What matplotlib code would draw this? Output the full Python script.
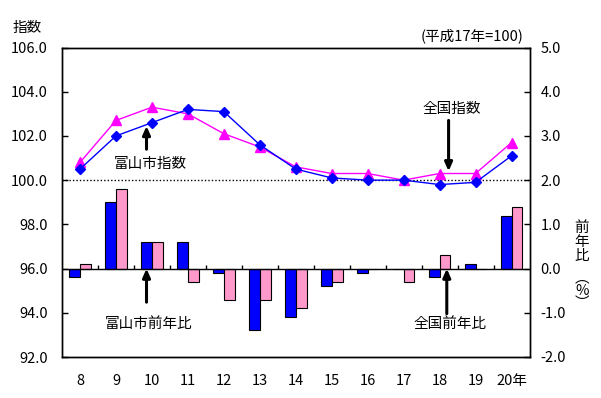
import numpy as np
import matplotlib
matplotlib.use("Agg")
import matplotlib.pyplot as plt

plt.rcParams['font.family'] = ['Noto Sans CJK JP', 'DejaVu Sans']

# ---- data ----
years = ['8', '9', '10', '11', '12', '13', '14', '15', '16', '17', '18', '19', '20年']
toyama_index = [100.5, 102.0, 102.6, 103.2, 103.1, 101.6, 100.5, 100.1, 100.0, 100.0, 99.8, 99.9, 101.1]
national_index = [100.8, 102.7, 103.3, 103.0, 102.1, 101.5, 100.6, 100.3, 100.3, 100.0, 100.3, 100.3, 101.7]
toyama_yoy = [-0.2, 1.5, 0.6, 0.6, -0.1, -1.4, -1.1, -0.4, -0.1, 0.0, -0.2, 0.1, 1.2]
national_yoy = [0.1, 1.8, 0.6, -0.3, -0.7, -0.7, -0.9, -0.3, 0.0, -0.3, 0.3, 0.0, 1.4]
left_ticks = [92.0, 94.0, 96.0, 98.0, 100.0, 102.0, 104.0, 106.0]
right_ticks = [-2.0, -1.0, 0.0, 1.0, 2.0, 3.0, 4.0, 5.0]

BLUE = '#0000FF'
PINK = '#FF99CC'
MAGENTA = '#FF00FF'
FS = 10.5

fig = plt.figure(figsize=(6.01, 3.98), dpi=100)
ax1 = fig.add_axes([62 / 601, 1 - 357 / 398, (529.5 - 62) / 601, (357 - 47.5) / 398])
ax2 = ax1.twinx()
ax1.set_zorder(ax2.get_zorder() + 1)
ax1.patch.set_visible(False)

x = np.arange(len(years))
w = 0.3

# bars (right axis)
ax2.bar(x - w / 2, toyama_yoy, width=w, color=BLUE, edgecolor='black', linewidth=0.8)
ax2.bar(x + w / 2, national_yoy, width=w, color=PINK, edgecolor='black', linewidth=0.8)
ax2.axhline(0, color='black', linewidth=1.0)
ax2.vlines(x[:-1] + 0.5, 0, 0.09, color='black', linewidth=1.0)
ax2.set_ylim(right_ticks[0], right_ticks[-1])
ax2.set_yticks(right_ticks)
ax2.set_yticklabels([f'{v:.1f}' for v in right_ticks], fontsize=FS)
ax2.tick_params(axis='y', direction='in', length=4, pad=8, width=1)

# lines (left axis)
ax1.axhline(100, color='black', linewidth=1.0, linestyle=(0, (1, 1.5)))
ax1.plot(x, national_index, color=MAGENTA, linewidth=1.0, marker='^', markersize=7)
ax1.plot(x, toyama_index, color=BLUE, linewidth=1.0, marker='D', markersize=5)
ax1.set_ylim(left_ticks[0], left_ticks[-1])
ax1.set_yticks(left_ticks)
ax1.set_yticklabels([f'{v:.1f}' for v in left_ticks], fontsize=FS)
ax1.tick_params(axis='y', direction='in', length=4, pad=10, width=1)
ax1.set_xlim(-0.5, len(years) - 0.5)
ax1.set_xticks(x)
ax1.set_xticklabels(years, fontsize=FS)
ax1.tick_params(axis='x', length=0, pad=12)

for ax in (ax1, ax2):
    for s in ax.spines.values():
        s.set_linewidth(1.0)

# annotations
def arrow(ax, xv, y_from, y_to):
    ax.annotate('', xy=(xv, y_to), xytext=(xv, y_from),
                arrowprops=dict(arrowstyle='-|>,head_length=0.5,head_width=0.22',
                                color='black', linewidth=2.2, shrinkA=0, shrinkB=0))

arrow(ax1, 1.85, 101.4, 102.45)
ax1.text(1.95, 100.75, '富山市指数', fontsize=FS, ha='center', va='center')
arrow(ax1, 10.25, 102.7, 100.4)
ax1.text(10.35, 103.2, '全国指数', fontsize=FS, ha='center', va='center')
arrow(ax2, 1.85, -0.76, 0.0)
ax2.text(1.9, -1.26, '富山市前年比', fontsize=FS, ha='center', va='center')
arrow(ax2, 10.2, -1.02, 0.0)
ax2.text(10.3, -1.26, '全国前年比', fontsize=FS, ha='center', va='center')

fig.text(27 / 601, 1 - 28 / 398, '指数', fontsize=FS, ha='center', va='center')
fig.text(472 / 601, 1 - 36 / 398, '(平成17年=100)', fontsize=FS, ha='center', va='center')
fig.text(582 / 601, 1 - 242 / 398, '前\n年\n比', fontsize=FS, ha='center', va='center', linespacing=1.0)
fig.text(582 / 601, 1 - 291 / 398, '︵\n%\n︶', fontsize=FS, ha='center', va='center', linespacing=0.85)

fig.savefig('out.png', dpi=100)
